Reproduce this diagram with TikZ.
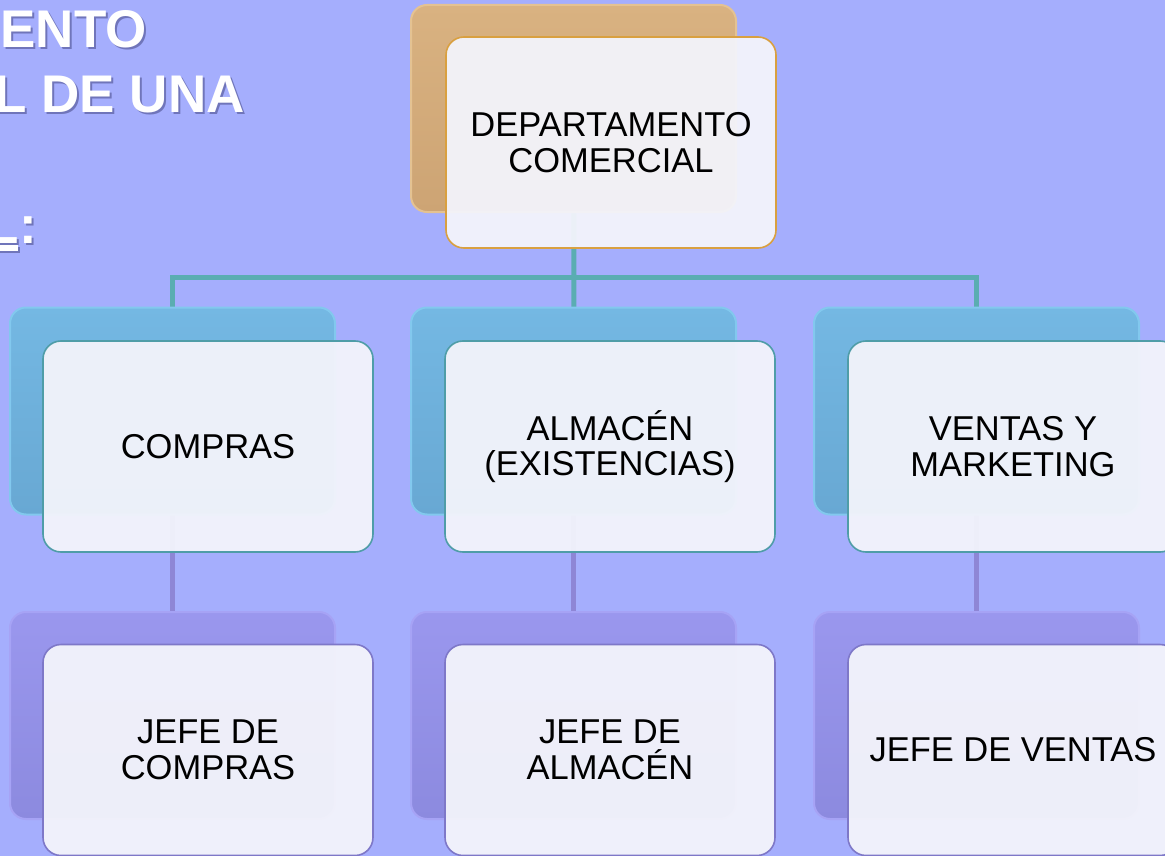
\documentclass[tikz,border=0pt]{standalone}
\usepackage{fontspec}
\setmainfont{Liberation Sans}
\pgfdeclarelayer{bg}
\pgfsetlayers{bg,main}
\definecolor{bgc}{HTML}{A5AEFD}
\definecolor{tanT}{HTML}{D9B281}
\definecolor{tanB}{HTML}{CDA474}
\definecolor{tanD}{HTML}{E4C292}
\definecolor{bluT}{HTML}{74B8E3}
\definecolor{bluB}{HTML}{68A8D3}
\definecolor{bluD}{HTML}{82C8EE}
\definecolor{purT}{HTML}{9A97EE}
\definecolor{purB}{HTML}{8C8ADF}
\definecolor{purD}{HTML}{A6A3F5}
\definecolor{frontF}{HTML}{F3F4FB}
\definecolor{orgD}{HTML}{D9A040}
\definecolor{tealD}{HTML}{4F9DA8}
\definecolor{purFD}{HTML}{7E78C8}
\definecolor{tealL}{HTML}{5AADB2}
\definecolor{purL}{HTML}{8E86D6}
\definecolor{shad}{HTML}{5A5E9E}
\begin{document}
\begin{tikzpicture}[x=1pt,y=-1pt,
  backbox/.style={rounded corners=16pt, minimum width=325pt, minimum height=207pt, inner sep=0pt, line width=2pt},
  tanback/.style={backbox, top color=tanT, bottom color=tanB, draw=tanD},
  bluback/.style={backbox, top color=bluT, bottom color=bluB, draw=bluD},
  purback/.style={backbox, top color=purT, bottom color=purB, draw=purD},
  frontbox/.style={rounded corners=18pt, minimum width=330pt, minimum height=211pt, inner sep=0pt, line width=1.6pt, fill=frontF, fill opacity=0.95, text opacity=1, align=center, font=\fontsize{34.5}{35.5}\selectfont},
  topfront/.style={frontbox, draw=orgD},
  midfront/.style={frontbox, draw=tealD},
  botfront/.style={frontbox, draw=purFD},
  titletext/.style={text=white, font=\fontsize{53}{60}\selectfont\bfseries, inner sep=0pt, anchor=base east},
  titleshadow/.style={text=shad, text opacity=0.7, font=\fontsize{53}{60}\selectfont\bfseries, inner sep=0pt, anchor=base east},
  tealline/.style={draw=tealL, line width=5pt},
  purline/.style={draw=purL, line width=5pt}
]
\useasboundingbox (0,0) rectangle (1165,856);
\clip (0,0) rectangle (1165,856);
\begin{pgfonlayer}{bg}
\fill[bgc] (0,0) rectangle (1165,856);
\end{pgfonlayer}

% title (cut at left edge)
\node[titleshadow] (t1s) at (149,50) {ENTO};
\node[titletext] (t1) at (147,48) {ENTO};
\node[titleshadow] (t2s) at (247,115) {L DE UNA};
\node[titletext] (t2) at (245,113) {L DE UNA};
\node[titleshadow] (t3s) at (39,245) {L:};
\node[titletext] (t3) at (37,243) {L:};
\fill[shad, opacity=0.7] (-10,247) rectangle (20,253);
\fill[white] (-10,245) rectangle (18,251);

% back boxes
\node[tanback] (tb) at (573.5,108.5) {};
\node[bluback] (mb1) at (172.5,411) {};
\node[bluback] (mb2) at (573.5,411) {};
\node[bluback] (mb3) at (976.5,411) {};
\node[purback] (bb1) at (172.5,715.5) {};
\node[purback] (bb2) at (573.5,715.5) {};
\node[purback] (bb3) at (976.5,715.5) {};

% front boxes
\node[topfront] (tf) at (611,142.5) {DEPARTAMENTO\\COMERCIAL};
\node[midfront] (mf1) at (208,446.5) {COMPRAS};
\node[midfront] (mf2) at (610,446.5) {ALMACÉN\\(EXISTENCIAS)};
\node[midfront] (mf3) at (1013,446.5) {VENTAS Y\\MARKETING};
\node[botfront] (bf1) at (208,750) {JEFE DE\\COMPRAS};
\node[botfront] (bf2) at (610,750) {JEFE DE\\ALMACÉN};
\node[botfront] (bf3) at (1013,750) {JEFE DE VENTAS};

\coordinate (bus) at (574,277);
\begin{pgfonlayer}{bg}
\draw[tealline] (tb.center) -- (bus);
\draw[tealline] (mb1.center) |- (bus) -| (mb3.center);
\draw[tealline] (bus) -- (mb2.center);
\draw[purline] (mb1.center) -- (bb1.center);
\draw[purline] (mb2.center) -- (bb2.center);
\draw[purline] (mb3.center) -- (bb3.center);
\end{pgfonlayer}
\end{tikzpicture}
\end{document}
